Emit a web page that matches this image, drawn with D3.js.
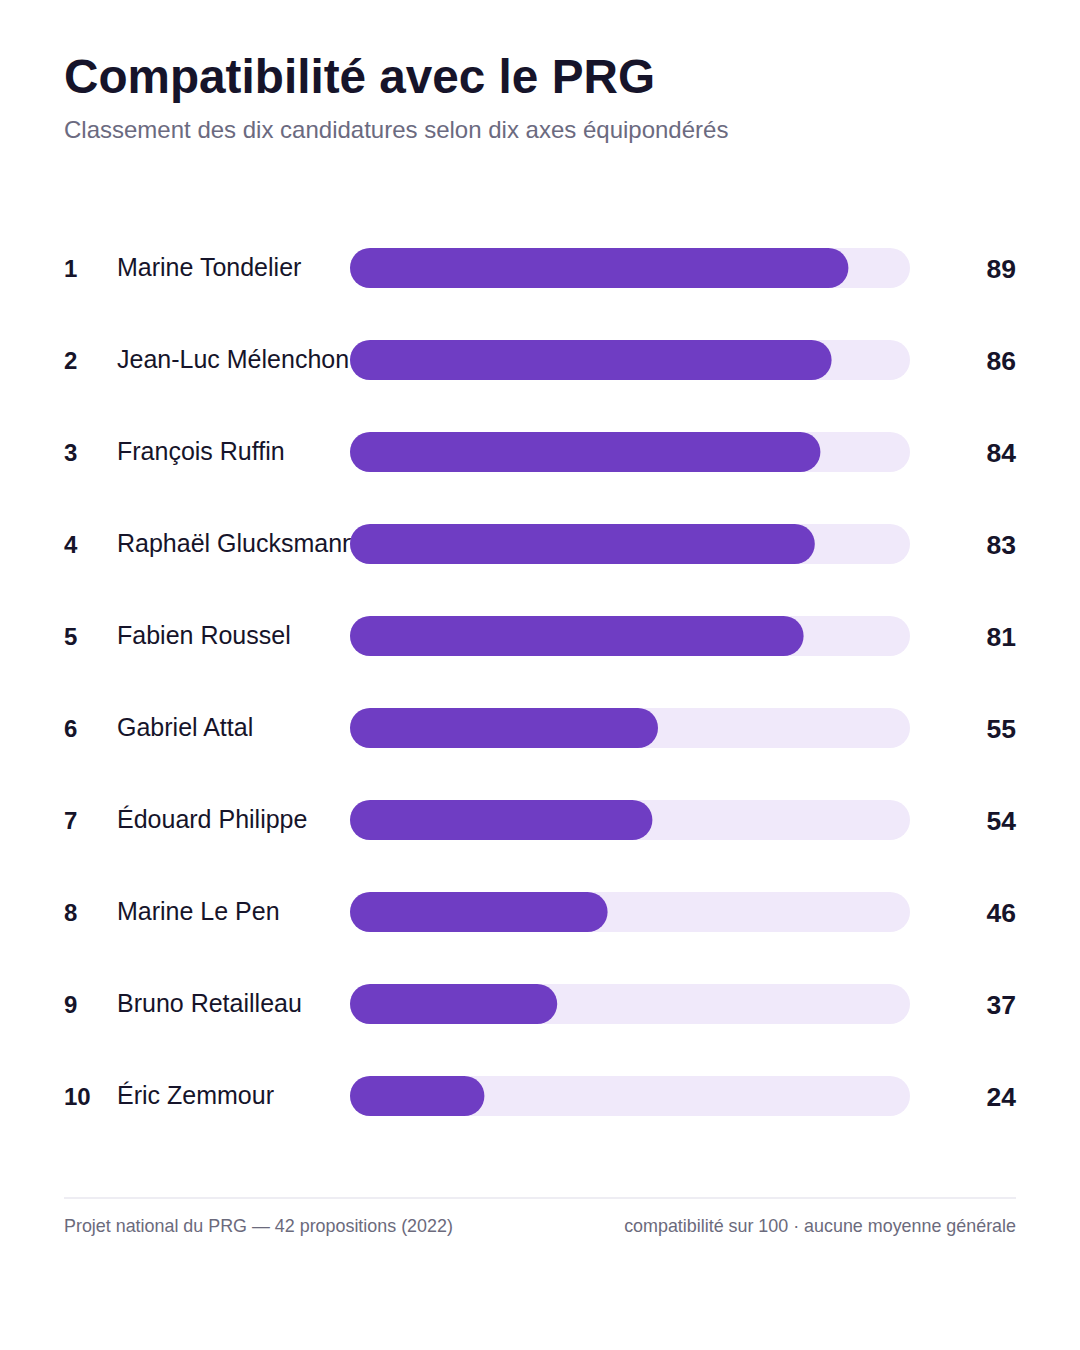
<!DOCTYPE html>
<html>
<head>
<meta charset="utf-8">
<script src="https://d3js.org/d3.v7.min.js"></script>
<style>
  body { margin: 0; background: #ffffff; }
  svg text { font-family: "Liberation Sans", Arial, Helvetica, sans-serif; }
</style>
</head>
<body>
<div id="vis"></div>
<script>
  // Data
  var candidates = [
    "Marine Tondelier", "Jean-Luc Mélenchon", "François Ruffin",
    "Raphaël Glucksmann", "Fabien Roussel", "Gabriel Attal",
    "Édouard Philippe", "Marine Le Pen", "Bruno Retailleau", "Éric Zemmour"
  ];
  var scores = [89, 86, 84, 83, 81, 55, 54, 46, 37, 24];
  var ranks = [1, 2, 3, 4, 5, 6, 7, 8, 9, 10];

  var rows = candidates.map(function (name, i) {
    return { rank: ranks[i], name: name, score: scores[i] };
  });

  var W = 1080, H = 1350;
  var left = 64, right = 1016;

  var svg = d3.select("#vis")
    .append("svg")
    .attr("width", W)
    .attr("height", H);

  // Title + subtitle
  svg.append("text")
    .attr("x", left).attr("y", 93)
    .attr("font-size", 47.7).attr("font-weight", "bold")
    .attr("fill", "#16142a")
    .text("Compatibilité avec le PRG");

  svg.append("text")
    .attr("x", left).attr("y", 138)
    .attr("font-size", 24)
    .attr("fill", "#6b6a80")
    .text("Classement des dix candidatures selon dix axes équipondérés");

  // Scales
  var x = d3.scaleLinear().domain([0, 100]).range([350, 910]);
  var y = d3.scaleBand()
    .domain(candidates)
    .range([222, 222 + 92 * candidates.length]);
  var barH = 40;

  var g = svg.selectAll("g.row")
    .data(rows)
    .enter()
    .append("g")
    .attr("class", "row")
    .attr("transform", function (d) {
      return "translate(0," + (y(d.name) + y.bandwidth() / 2) + ")";
    });

  // track
  g.append("rect")
    .attr("x", x(0))
    .attr("y", -barH / 2)
    .attr("width", x(100) - x(0))
    .attr("height", barH)
    .attr("rx", barH / 2)
    .attr("fill", "#f0e9fa");

  // value bar
  g.append("rect")
    .attr("x", x(0))
    .attr("y", -barH / 2)
    .attr("width", function (d) { return x(d.score) - x(0); })
    .attr("height", barH)
    .attr("rx", barH / 2)
    .attr("fill", "#6f3dc3");

  // rank
  g.append("text")
    .attr("x", left)
    .attr("y", 8.5)
    .attr("font-size", 24)
    .attr("font-weight", "bold")
    .attr("fill", "#16142a")
    .text(function (d) { return d.rank; });

  // name, under the bars (long names get clipped by the bar)
  g.insert("text", "rect")
    .attr("x", 117)
    .attr("y", 8)
    .attr("font-size", 25)
    .attr("fill", "#16142a")
    .text(function (d) { return d.name; });

  // value
  g.append("text")
    .attr("x", right)
    .attr("y", 9.5)
    .attr("text-anchor", "end")
    .attr("font-size", 26.5)
    .attr("font-weight", "bold")
    .attr("fill", "#16142a")
    .text(function (d) { return d.score; });

  // Footer
  svg.append("line")
    .attr("x1", left).attr("x2", right)
    .attr("y1", 1198).attr("y2", 1198)
    .attr("stroke", "#e8e7ef").attr("stroke-width", 1.5);

  svg.append("text")
    .attr("x", left).attr("y", 1232)
    .attr("font-size", 17.9)
    .attr("fill", "#6b6a7c")
    .text("Projet national du PRG — 42 propositions (2022)");

  svg.append("text")
    .attr("x", right).attr("y", 1232)
    .attr("text-anchor", "end")
    .attr("font-size", 17.9)
    .attr("fill", "#6b6a7c")
    .text("compatibilité sur 100 · aucune moyenne générale");
</script>
</body>
</html>
